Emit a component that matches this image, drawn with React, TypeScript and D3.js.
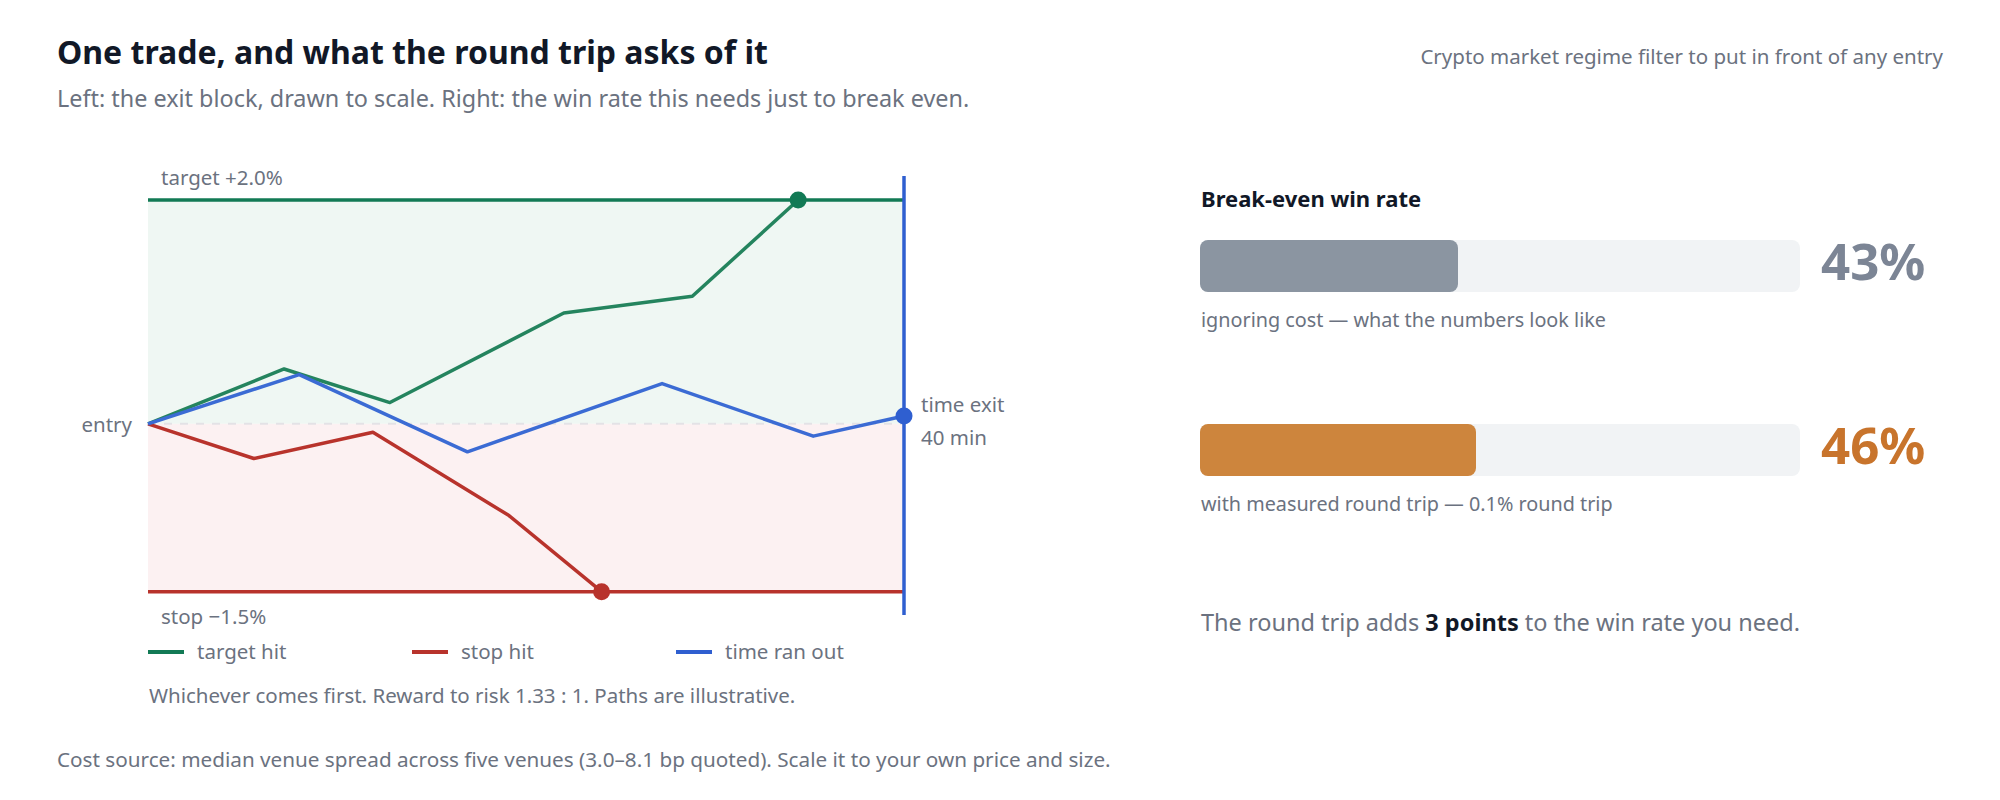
import React, { useEffect, useRef } from "react";
import * as d3 from "d3";

const WIDTH = 2000;
const HEIGHT = 800;
const FONT = "'Noto Sans', 'Open Sans', sans-serif";

const colors = {
  TITLE: "#111827",
  MUTED: "#6b7280",
  TARGET: "#127a55",
  TARGET_PATH: "#24845e",
  STOP: "#b8332c",
  TIME: "#2f5fd0",
  TIME_PATH: "#3b6bd4",
  TARGET_FILL: "#eff7f3",
  STOP_FILL: "#fcf1f2",
  ENTRY_DASH: "#e3e2e6",
  TRACK: "#f1f3f5",
  BAR_PLAIN: "#8b95a1",
  BAR_COST: "#cd853d",
  LABEL_PLAIN: "#7c8595",
  LABEL_COST: "#c8742c",
};

// exit block levels, % from entry
const targetPct = 2.0;
const stopPct = -1.5;
const timeLimitMin = 40;

// illustrative paths: minutes after entry, % move
const targetTimes = [0, 7.2, 12.8, 22, 28.8, 34.4];
const targetMoves = [0, 0.49, 0.19, 0.99, 1.14, 2.0];
const stopTimes = [0, 5.6, 11.9, 19.1, 24];
const stopMoves = [0, -0.31, -0.075, -0.82, -1.5];
const timeTimes = [0, 8, 16.9, 27.2, 35.2, 40];
const timeMoves = [0, 0.44, -0.25, 0.36, -0.11, 0.07];

const legendLabels = ["target hit", "stop hit", "time ran out"];

// break-even win rates
const winRateLabels = ["ignoring cost — what the numbers look like", "with measured round trip — 0.1% round trip"];
const winRates = [43, 46];

function App() {
  const ref = useRef<SVGSVGElement | null>(null);

  useEffect(() => {
    const svg = d3.select(ref.current);
    svg.selectAll("*").remove();
    svg.style("font-family", FONT);

    // header
    svg
      .append("text")
      .attr("x", 57)
      .attr("y", 64)
      .attr("font-size", 32)
      .attr("font-weight", 700)
      .attr("fill", colors.TITLE)
      .text("One trade, and what the round trip asks of it");
    svg
      .append("text")
      .attr("x", 57)
      .attr("y", 107)
      .attr("font-size", 23.4)
      .attr("fill", colors.MUTED)
      .text("Left: the exit block, drawn to scale. Right: the win rate this needs just to break even.");
    svg
      .append("text")
      .attr("x", 1943)
      .attr("y", 64)
      .attr("text-anchor", "end")
      .attr("font-size", 20.5)
      .attr("fill", colors.MUTED)
      .text("Crypto market regime filter to put in front of any entry");

    // left: exit block
    const x = d3.scaleLinear().domain([0, timeLimitMin]).range([148, 904]);
    const y = d3.scaleLinear().domain([stopPct, targetPct]).range([591.7, 200]);
    const g = svg.append("g");

    g.append("rect")
      .attr("x", x(0))
      .attr("y", y(targetPct))
      .attr("width", x(timeLimitMin) - x(0))
      .attr("height", y(0) - y(targetPct))
      .attr("fill", colors.TARGET_FILL);
    g.append("rect")
      .attr("x", x(0))
      .attr("y", y(0))
      .attr("width", x(timeLimitMin) - x(0))
      .attr("height", y(stopPct) - y(0))
      .attr("fill", colors.STOP_FILL);

    g.append("line")
      .attr("x1", x(0))
      .attr("x2", x(timeLimitMin))
      .attr("y1", y(0))
      .attr("y2", y(0))
      .attr("stroke", colors.ENTRY_DASH)
      .attr("stroke-width", 2)
      .attr("stroke-dasharray", "8 8");

    g.append("line")
      .attr("x1", x(0))
      .attr("x2", x(timeLimitMin))
      .attr("y1", y(targetPct))
      .attr("y2", y(targetPct))
      .attr("stroke", colors.TARGET)
      .attr("stroke-width", 3.5);
    g.append("line")
      .attr("x1", x(0))
      .attr("x2", x(timeLimitMin))
      .attr("y1", y(stopPct))
      .attr("y2", y(stopPct))
      .attr("stroke", colors.STOP)
      .attr("stroke-width", 3.5);
    g.append("line")
      .attr("x1", x(timeLimitMin))
      .attr("x2", x(timeLimitMin))
      .attr("y1", 176)
      .attr("y2", 615)
      .attr("stroke", colors.TIME)
      .attr("stroke-width", 3.5);

    const line = d3
      .line<[number, number]>()
      .x((d) => x(d[0]))
      .y((d) => y(d[1]));

    const paths = [
      { times: targetTimes, moves: targetMoves, stroke: colors.TARGET_PATH, dot: colors.TARGET },
      { times: stopTimes, moves: stopMoves, stroke: colors.STOP, dot: colors.STOP },
      { times: timeTimes, moves: timeMoves, stroke: colors.TIME_PATH, dot: colors.TIME },
    ];
    paths.forEach((p) => {
      const pts = p.times.map((t, i) => [t, p.moves[i]] as [number, number]);
      g.append("path")
        .attr("d", line(pts))
        .attr("fill", "none")
        .attr("stroke", p.stroke)
        .attr("stroke-width", 3.5)
        .attr("stroke-linejoin", "round");
      const last = pts[pts.length - 1];
      g.append("circle").attr("cx", x(last[0])).attr("cy", y(last[1])).attr("r", 8.5).attr("fill", p.dot);
    });

    const label = (tx: number, ty: number, text: string, anchor = "start") =>
      g
        .append("text")
        .attr("x", tx)
        .attr("y", ty)
        .attr("text-anchor", anchor)
        .attr("font-size", 20.5)
        .attr("fill", colors.MUTED)
        .text(text);

    label(x(0) + 13, y(targetPct) - 15, "target +2.0%");
    label(x(0) + 13, y(stopPct) + 32, "stop −1.5%");
    label(x(0) - 16, y(0) + 8, "entry", "end");
    label(x(timeLimitMin) + 17, y(timeMoves[timeMoves.length - 1]) - 4, "time exit");
    label(x(timeLimitMin) + 17, y(timeMoves[timeMoves.length - 1]) + 29, "40 min");

    // legend
    const legendColors = [colors.TARGET, colors.STOP, colors.TIME];
    const legend = g
      .selectAll("g.legend")
      .data(legendLabels)
      .enter()
      .append("g")
      .attr("transform", (d, i) => `translate(${148 + i * 264},652)`);
    legend
      .append("line")
      .attr("x1", 0)
      .attr("x2", 36)
      .attr("stroke", (d, i) => legendColors[i])
      .attr("stroke-width", 4);
    legend
      .append("text")
      .attr("x", 49)
      .attr("y", 7)
      .attr("font-size", 20.5)
      .attr("fill", colors.MUTED)
      .text((d) => d);

    g.append("text")
      .attr("x", 149)
      .attr("y", 703)
      .attr("font-size", 20.5)
      .attr("fill", colors.MUTED)
      .text("Whichever comes first. Reward to risk 1.33 : 1. Paths are illustrative.");

    svg
      .append("text")
      .attr("x", 57)
      .attr("y", 767)
      .attr("font-size", 20.7)
      .attr("fill", colors.MUTED)
      .text("Cost source: median venue spread across five venues (3.0–8.1 bp quoted). Scale it to your own price and size.");

    // right: break-even win rate
    const r = svg.append("g");
    r.append("text")
      .attr("x", 1201)
      .attr("y", 207)
      .attr("font-size", 22)
      .attr("font-weight", 700)
      .attr("fill", colors.TITLE)
      .text("Break-even win rate");

    const w = d3.scaleLinear().domain([0, 100]).range([0, 600]);
    const barFill = [colors.BAR_PLAIN, colors.BAR_COST];
    const numFill = [colors.LABEL_PLAIN, colors.LABEL_COST];
    const rows = r
      .selectAll("g.row")
      .data(winRates)
      .enter()
      .append("g")
      .attr("transform", (d, i) => `translate(1200,${240 + i * 184})`);
    rows.append("rect").attr("width", w(100)).attr("height", 52).attr("rx", 8).attr("fill", colors.TRACK);
    rows
      .append("rect")
      .attr("width", (d) => w(d))
      .attr("height", 52)
      .attr("rx", 8)
      .attr("fill", (d, i) => barFill[i]);
    rows
      .append("text")
      .attr("x", w(100) + 21)
      .attr("y", 40)
      .attr("font-size", 51)
      .attr("font-weight", 700)
      .attr("fill", (d, i) => numFill[i])
      .text((d) => `${d}%`);
    rows
      .append("text")
      .attr("x", 1)
      .attr("y", 87)
      .attr("font-size", 19.8)
      .attr("fill", colors.MUTED)
      .text((d, i) => winRateLabels[i]);

    const note = r.append("text").attr("x", 1201).attr("y", 631).attr("font-size", 23.5).attr("fill", colors.MUTED);
    note.append("tspan").text("The round trip adds ");
    note
      .append("tspan")
      .attr("font-weight", 700)
      .attr("fill", colors.TITLE)
      .text(`${winRates[1] - winRates[0]} points`);
    note.append("tspan").text(" to the win rate you need.");
  }, []);

  return (
    <div style={{ position: "absolute", left: 0, top: 0, width: WIDTH, height: HEIGHT, background: "#fff" }}>
      <svg ref={ref} width={WIDTH} height={HEIGHT} style={{ display: "block" }} />
    </div>
  );
}

export default App;
